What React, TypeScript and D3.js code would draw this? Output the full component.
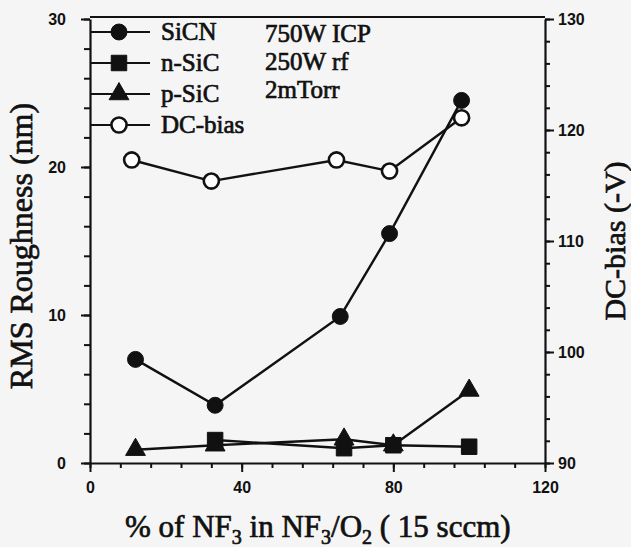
import React, { useEffect, useRef } from 'react';
import * as d3 from 'd3';

// series
const sicnX = [12, 33, 66, 79, 98];
const sicnY = [7.0, 3.9, 9.9, 15.5, 24.5];
const nsicX = [33, 67, 80, 100];
const nsicY = [1.55, 1.0, 1.2, 1.1];
const psicX = [12, 33, 67, 80, 100];
const psicY = [0.9, 1.2, 1.6, 1.2, 4.9];
const dcX = [11, 32, 65, 79, 98];
const dcY = [117.3, 115.4, 117.3, 116.3, 121.1];

const xTicks = [0, 40, 80, 120];
const yTicks = [0, 10, 20, 30];
const y2Ticks = [90, 100, 110, 120, 130];

const legendNames = ['SiCN', 'n-SiC', 'p-SiC', 'DC-bias'];
const conditions = ['750W ICP', '250W rf', '2mTorr'];

const App = () => {
  const svgRef = useRef<SVGSVGElement>(null);

  useEffect(() => {
    const W = 631;
    const H = 547;
    const ink = '#111';
    const serif = '"Liberation Serif", "Times New Roman", serif';
    const sans = '"Liberation Sans", Arial, sans-serif';

    d3.select(svgRef.current).selectAll('*').remove();
    const svg = d3.select(svgRef.current).attr('width', W).attr('height', H);

    svg.append('rect').attr('width', W).attr('height', H).attr('fill', '#f5f5f5');

    const x = d3.scaleLinear().domain([0, 120]).range([90, 545]);
    const y = d3.scaleLinear().domain([0, 30]).range([463, 19]);
    const y2 = d3.scaleLinear().domain([90, 130]).range([463, 19]);

    // frame top line
    svg
      .append('line')
      .attr('x1', x(0))
      .attr('x2', x(120))
      .attr('y1', y(30) - 2)
      .attr('y2', y(30) - 2)
      .attr('stroke', ink)
      .attr('stroke-width', 2);

    // bottom axis
    const gx = svg.append('g').attr('transform', `translate(0, ${y(0)})`);
    gx.call(d3.axisBottom(x).tickValues(d3.range(0, 121, 8)).tickSize(5).tickFormat(() => ''));
    gx.call(g => g.select('.domain').remove());
    const gx2 = svg.append('g').attr('transform', `translate(0, ${y(0)})`);
    gx2.call(d3.axisBottom(x).tickValues(xTicks).tickSize(9).tickPadding(10).tickSizeOuter(0));

    // left axis
    const gy = svg.append('g').attr('transform', `translate(${x(0)}, 0)`);
    gy.call(d3.axisLeft(y).tickValues(d3.range(0, 31, 2)).tickSize(6).tickFormat(() => ''));
    gy.call(g => g.select('.domain').remove());
    const gy2 = svg.append('g').attr('transform', `translate(${x(0)}, 0)`);
    gy2.call(d3.axisLeft(y).tickValues(yTicks).tickSize(9).tickPadding(15).tickSizeOuter(0));

    // right axis
    const gr = svg.append('g').attr('transform', `translate(${x(120)}, 0)`);
    gr.call(d3.axisRight(y2).tickValues(d3.range(90, 131, 2)).tickSize(5).tickFormat(() => ''));
    gr.call(g => g.select('.domain').remove());
    const gr2 = svg.append('g').attr('transform', `translate(${x(120)}, 0)`);
    gr2.call(d3.axisRight(y2).tickValues(y2Ticks).tickSize(9).tickPadding(4).tickSizeOuter(0));

    svg.selectAll('.domain').attr('stroke', ink).attr('stroke-width', 2.2);
    svg.selectAll('.tick line').attr('stroke', ink).attr('stroke-width', 2);
    svg
      .selectAll('.tick text')
      .attr('fill', ink)
      .style('font-family', sans)
      .style('font-size', '16px')
      .style('font-weight', 'bold');

    // axis titles
    svg
      .append('text')
      .attr('transform', `translate(32, 246) rotate(-90)`)
      .attr('text-anchor', 'middle')
      .attr('fill', ink)
      .attr('stroke', ink)
      .attr('stroke-width', 0.7)
      .style('font-family', serif)
      .style('font-size', '32px')
      .text('RMS Roughness (nm)');

    svg
      .append('text')
      .attr('transform', `translate(625, 241) rotate(-90)`)
      .attr('text-anchor', 'middle')
      .attr('fill', ink)
      .attr('stroke', ink)
      .attr('stroke-width', 0.7)
      .style('font-family', serif)
      .style('font-size', '30px')
      .text('DC-bias (-V)');

    const xt = svg
      .append('text')
      .attr('x', 125)
      .attr('y', 537)
      .attr('fill', ink)
      .attr('stroke', ink)
      .attr('stroke-width', 0.7)
      .style('font-family', serif)
      .style('font-size', '31px');
    xt.append('tspan').text('% of NF');
    xt.append('tspan').attr('dy', 7).style('font-size', '20px').text('3');
    xt.append('tspan').attr('dy', -7).text(' in NF');
    xt.append('tspan').attr('dy', 7).style('font-size', '20px').text('3');
    xt.append('tspan').attr('dy', -7).text('/O');
    xt.append('tspan').attr('dy', 7).style('font-size', '20px').text('2');
    xt.append('tspan').attr('dy', -7).text(' ( 15 sccm)');

    // series
    const series = [
      { xs: sicnX, ys: sicnY, s: y, sym: d3.symbolCircle, size: 200, fill: ink },
      { xs: nsicX, ys: nsicY, s: y, sym: d3.symbolSquare, size: 240, fill: ink },
      { xs: psicX, ys: psicY, s: y, sym: d3.symbolTriangle, size: 170, fill: ink },
      { xs: dcX, ys: dcY, s: y2, sym: d3.symbolCircle, size: 180, fill: '#fff' },
    ];

    series.forEach(sr => {
      const pts = sr.xs.map((v, i) => [x(v), sr.s(sr.ys[i])] as [number, number]);
      svg
        .append('path')
        .attr('d', d3.line()(pts))
        .attr('fill', 'none')
        .attr('stroke', ink)
        .attr('stroke-width', 2.4);
    });

    series.forEach(sr => {
      sr.xs.forEach((v, i) => {
        svg
          .append('path')
          .attr('d', d3.symbol().type(sr.sym).size(sr.size)())
          .attr('transform', `translate(${x(v)}, ${sr.s(sr.ys[i])})`)
          .attr('fill', sr.fill)
          .attr('stroke', ink)
          .attr('stroke-width', sr.fill === ink ? 1 : 2.6);
      });
    });

    // legend
    const legend = svg
      .selectAll('.legend')
      .data(legendNames)
      .enter()
      .append('g')
      .attr('transform', (_, i) => `translate(0, ${32 + i * 31})`);

    legend
      .append('line')
      .attr('x1', 91)
      .attr('x2', 150)
      .attr('stroke', ink)
      .attr('stroke-width', 2.2);

    legend
      .append('path')
      .attr('d', (_, i) => d3.symbol().type(series[i].sym).size(series[i].size)())
      .attr('transform', 'translate(119, 0)')
      .attr('fill', (_, i) => series[i].fill)
      .attr('stroke', ink)
      .attr('stroke-width', (_, i) => (i === 3 ? 2.6 : 1));

    legend
      .append('text')
      .attr('x', 161)
      .attr('y', 8)
      .attr('fill', ink)
      .attr('stroke', ink)
      .attr('stroke-width', 0.7)
      .style('font-family', serif)
      .style('font-size', '25px')
      .text(d => d);

    svg
      .selectAll('.cond')
      .data(conditions)
      .enter()
      .append('text')
      .attr('x', 265)
      .attr('y', (_, i) => 42 + i * 28)
      .attr('fill', ink)
      .attr('stroke', ink)
      .attr('stroke-width', 0.7)
      .style('font-family', serif)
      .style('font-size', '25px')
      .text(d => d);
  }, []);

  return (
    <div style={{ position: 'fixed', left: 0, top: 0 }}>
      <svg ref={svgRef}></svg>
    </div>
  );
};

export default App;
